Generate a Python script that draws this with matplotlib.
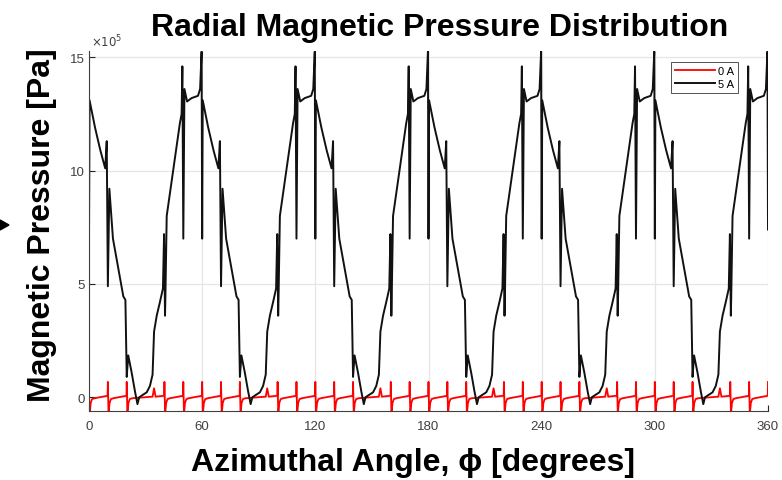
import numpy as np
import matplotlib
matplotlib.use('Agg')
import matplotlib.pyplot as plt
from matplotlib.patches import Polygon

plt.rcParams['font.family'] = ['Liberation Sans', 'DejaVu Sans']

# 5 A curve: one 60 degree period (angle in deg, pressure in 1e5 Pa)
period_angle = [0.0, 0.3, 1.5, 3.2, 6.0, 8.6, 9.4, 10.0, 10.8, 12.7, 18.2, 19.3,
                20.0, 20.8, 22.6, 24.4, 25.7, 26.6, 28.0, 30.6, 32.3, 33.7, 34.5,
                35.9, 37.6, 39.2, 39.8, 40.3, 40.5, 41.2, 44.7, 48.2, 49.1, 49.5,
                50.0, 50.6, 52.0, 54.4, 57.8, 58.9, 59.7]
period_5A = [7.0, 13.1, 12.6, 11.9, 10.9, 10.1, 11.3, 4.9, 9.2, 7.0, 4.45, 4.3,
             0.9, 1.85, 1.1, 0.25, -0.3, 0.0, 0.08, 0.22, 0.5, 1.0, 2.9,
             3.6, 4.2, 4.8, 7.2, 3.6, 4.4, 8.0, 10.05, 12.1, 12.5, 14.6,
             7.0, 13.6, 13.05, 13.2, 13.3, 13.6, 15.25]
end_5A = (360.0, 7.4)

# 0 A curve: slot spikes every 10 deg (none at 30 deg of each period, small bump at 34.5)
spike_at = [0, 10, 20, 40, 50]
spike_dx = [-0.15, 0.0, 0.35, 0.9, 1.6, 3.0]
spike_val = [0.07, 0.68, -0.75, -0.25, -0.08, -0.04]
bump_angle = [33.7, 34.5, 35.3]
bump_val = [0.03, 0.4, 0.03]

periods = [0, 60, 120, 180, 240, 300]
legend_labels = ['0 A', '5 A']
yticks = [0, 5, 10, 15]
xticks = [0, 60, 120, 180, 240, 300, 360]

# build full curves
x5, y5 = [], []
for p in periods:
    x5 += [p + a for a in period_angle]
    y5 += period_5A
x5.append(end_5A[0])
y5.append(end_5A[1])
x5 = np.array(x5)
y5 = np.array(y5) * 1e5

x0, y0 = [], []
for p in periods + [360]:
    pts = []
    for s in spike_at:
        pts += [(p + s + d, v) for d, v in zip(spike_dx, spike_val)]
    pts += [(p + a, v) for a, v in zip(bump_angle, bump_val)]
    pts.sort()
    for a, v in pts:
        if 0.1 < a <= 360:
            x0.append(a)
            y0.append(v)
x0 = np.array([0.0] + x0)
y0 = np.array([0.05] + y0) * 1e5

fig = plt.figure(figsize=(7.82, 4.81), dpi=100)
ax = fig.add_axes([89 / 782, 1 - 411.7 / 481, 679 / 782, 360 / 481])

ax.plot(x0, y0, color='#ff0000', lw=1.3, label=legend_labels[0])
ax.plot(x5, y5, color='#111111', lw=1.4, label=legend_labels[1])

ax.set_xlim(0, 360)
ax.set_ylim(-0.59e5, 15.29e5)
ax.set_xticks(xticks)
ax.set_xticklabels([str(t) for t in xticks])
ax.set_yticks([t * 1e5 for t in yticks])
ax.set_yticklabels([str(t) for t in yticks])
ax.tick_params(direction='in', length=4, width=0.8, colors='#262626',
               labelsize=9.5, labelcolor='#404040')
ax.tick_params(axis='x', pad=7)
ax.tick_params(axis='y', pad=3)
ax.grid(True, color='#e6e6e6', lw=0.9)
ax.set_axisbelow(True)
for side in ['top', 'right']:
    ax.spines[side].set_visible(False)
for side in ['left', 'bottom']:
    ax.spines[side].set_color('#404040')
    ax.spines[side].set_linewidth(0.8)

leg = ax.legend(loc='upper right', bbox_to_anchor=(0.956, 0.969), fontsize=8,
                handlelength=3.6, frameon=True, fancybox=False, borderpad=0.35,
                labelspacing=0.3, handletextpad=0.3, borderaxespad=0)
leg.get_frame().set_edgecolor('#262626')
leg.get_frame().set_linewidth(0.7)

fig.text(91 / 782, 1 - 47 / 481, r'$\times10^5$', fontsize=8.5, color='#404040',
         ha='left', va='baseline')

fig.text(440 / 782, 1 - 36 / 481, 'Radial Magnetic Pressure Distribution',
         fontsize=23, fontweight='bold', ha='center', va='baseline')
fig.text(413 / 782, 1 - 471 / 481, 'Azimuthal Angle, ϕ [degrees]',
         fontsize=23, fontweight='bold', ha='center', va='baseline')
fig.text(42 / 782, 1 - 225 / 481, 'Magnetic Pressure [Pa]', rotation=90,
         fontsize=23, fontweight='bold', ha='center', va='center')

# small arrow head on the left border
fig.patches.append(Polygon([[0 / 782, 1 - 221 / 481], [9 / 782, 1 - 226 / 481],
                            [0 / 782, 1 - 231 / 481]], closed=True,
                           transform=fig.transFigure, color='black'))

fig.savefig('out.png', dpi=100)
